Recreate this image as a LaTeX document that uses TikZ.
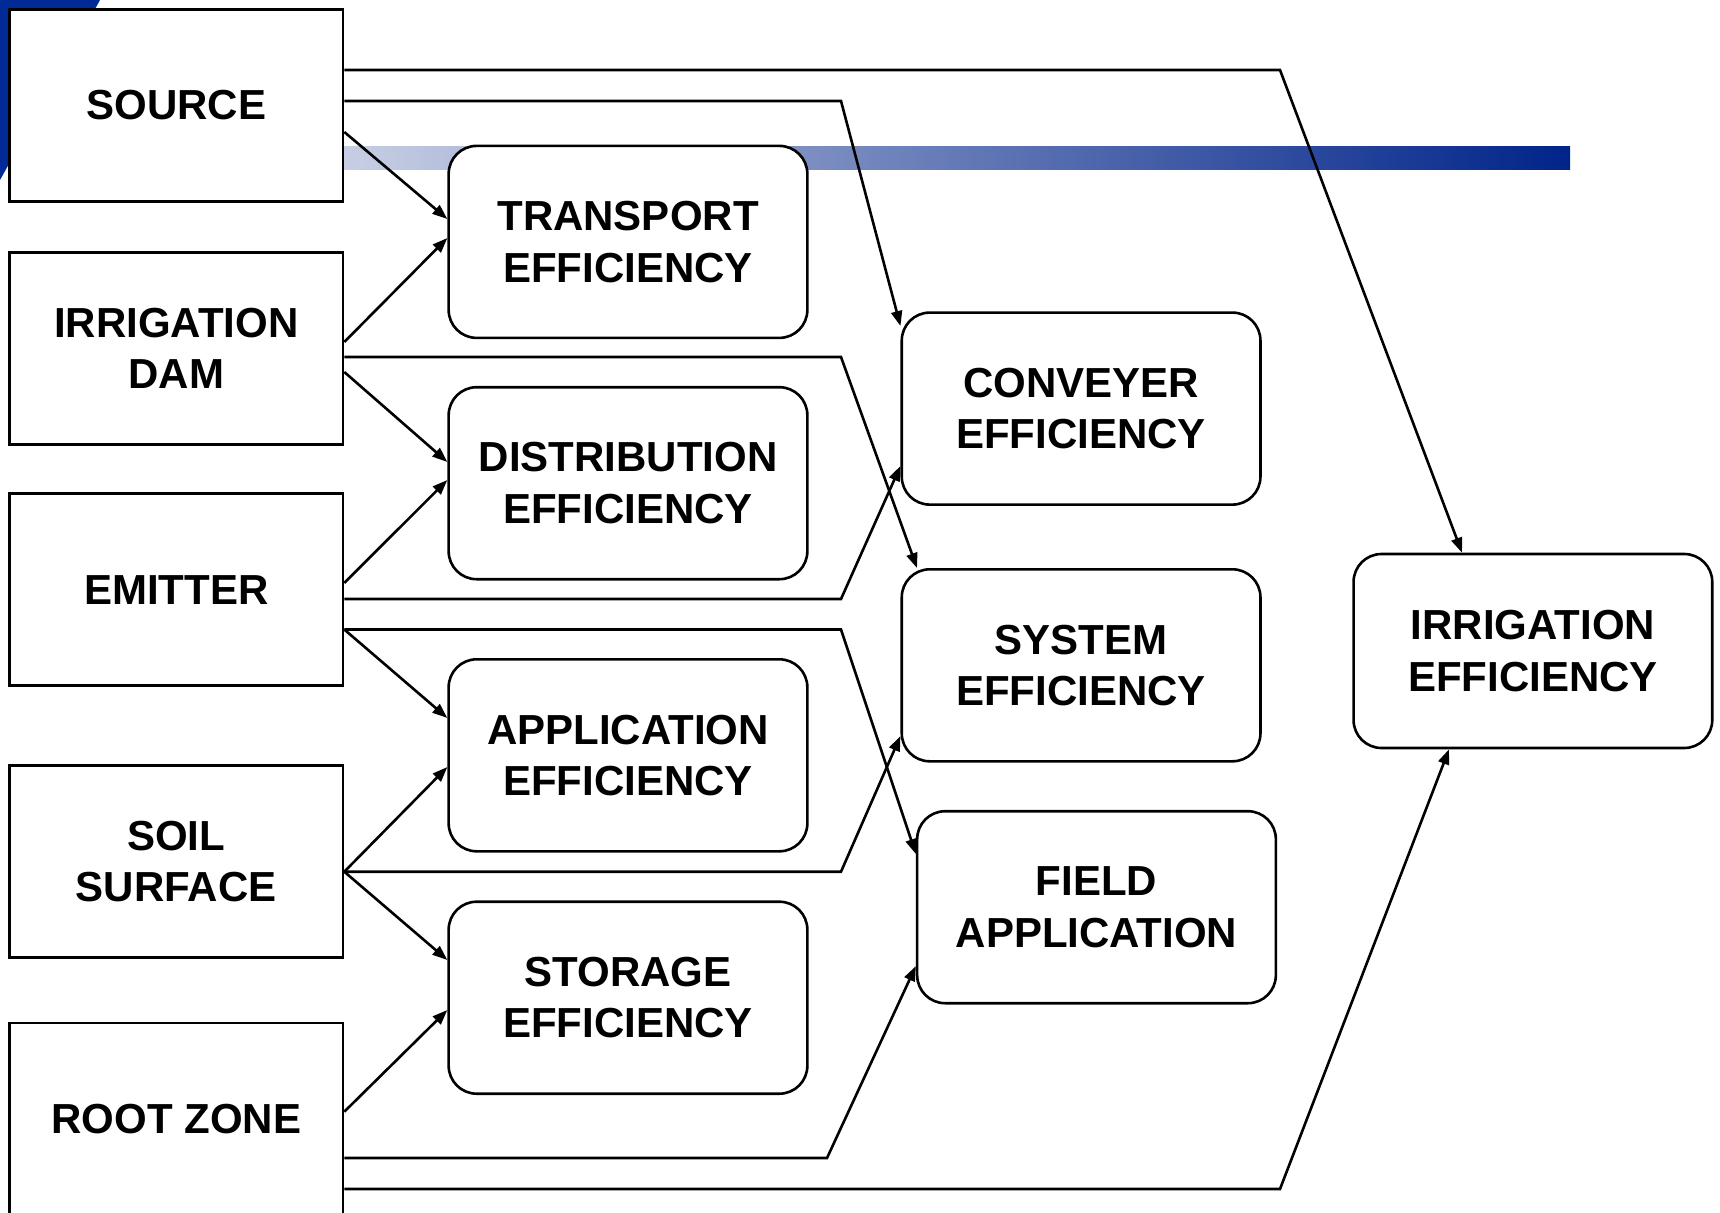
\documentclass[tikz,border=0pt]{standalone}
\usepackage{fontspec}
\setmainfont{Liberation Sans}
\usetikzlibrary{arrows.meta}
\pgfdeclarelayer{background}
\pgfsetlayers{background,main}
\definecolor{barL}{RGB}{200,207,228}
\definecolor{barR}{RGB}{0,36,137}
\definecolor{cornerblue}{RGB}{0,42,150}
\newcommand\boxfont{\fontsize{42}{51.5}\selectfont\bfseries}
\tikzset{
  sqbox/.style={draw, line width=2.6pt, fill=white, minimum width=333.5pt, minimum height=192pt, inner sep=0pt, align=center, font=\boxfont},
  rbox/.style={sqbox, rounded corners=28pt, minimum width=358.7pt},
  conn/.style={line width=2.6pt, -{Triangle[length=15pt,width=11pt]}},
}
\begin{document}
\begin{tikzpicture}[x=1pt,y=-1pt]
\useasboundingbox (0,0) rectangle (1720,1212);
\clip (0,0) rectangle (1720,1212);
% left column
\node[sqbox] (src)  at (176.25,105.5) {SOURCE};
\node[sqbox] (dam)  at (176.25,348.3) {IRRIGATION\\DAM};
\node[sqbox] (emi)  at (176.25,589.7) {EMITTER};
\node[sqbox] (soil) at (176.25,861.7) {SOIL\\SURFACE};
\node[sqbox] (root) at (176.25,1119) {ROOT ZONE};
% middle column
\node[rbox] (tr)   at (628,241.9) {TRANSPORT\\EFFICIENCY};
\node[rbox] (dist) at (628,483.2) {DISTRIBUTION\\EFFICIENCY};
\node[rbox] (app)  at (628,755.3) {APPLICATION\\EFFICIENCY};
\node[rbox] (stor) at (628,997.7) {STORAGE\\EFFICIENCY};
% third column
\node[rbox] (conv)  at (1081.1,408.6) {CONVEYER\\EFFICIENCY};
\node[rbox] (sys)   at (1081.1,665.3) {SYSTEM\\EFFICIENCY};
\node[rbox] (field) at (1096.5,907.2) {FIELD\\APPLICATION};
% right
\node[rbox, minimum height=194pt] (irr) at (1532.9,651) {IRRIGATION\\EFFICIENCY};
% background decoration
\begin{pgfonlayer}{background}
  \fill[cornerblue] (0,0) -- (100,0) -- (0,180) -- cycle;
  \shade[left color=barL, right color=barR] (343,146) rectangle (1570,169);
\end{pgfonlayer}
% connectors
\draw[conn] (src.east |- 0,70) -- (1280,70) -- (irr.north -| 1462,0);
\draw[conn] (src.east |- 0,101) -- (841,101) -- (conv.west |- 0,326);
\draw[conn] (src.east |- 0,132) -- (tr.west |- 0,219);
\draw[conn] (dam.east |- 0,342) -- (tr.west |- 0,238);
\draw[conn] (dam.east |- 0,357) -- (841,357) -- (sys.north -| 917,0);
\draw[conn] (dam.east |- 0,372) -- (dist.west |- 0,462);
\draw[conn] (emi.east |- 0,583) -- (dist.west |- 0,480);
\draw[conn] (emi.east |- 0,599) -- (841,599) -- (conv.west |- 0,466);
\draw[conn] (emi.east |- 0,629.5) -- (841,629.5) -- (field.west |- 0,854);
\draw[conn] (emi.east |- 0,629.5) -- (app.west |- 0,718);
\draw[conn] (soil.east |- 0,871.7) -- (app.west |- 0,767);
\draw[conn] (soil.east |- 0,871.7) -- (841,871.7) -- (sys.west |- 0,736);
\draw[conn] (soil.east |- 0,871.7) -- (stor.west |- 0,960);
\draw[conn] (root.east |- 0,1111.7) -- (stor.west |- 0,1010);
\draw[conn] (root.east |- 0,1158) -- (827,1158) -- (field.west |- 0,966);
\draw[conn] (root.east |- 0,1189) -- (1280,1189) -- (irr.south -| 1449,0);
\end{tikzpicture}
\end{document}
